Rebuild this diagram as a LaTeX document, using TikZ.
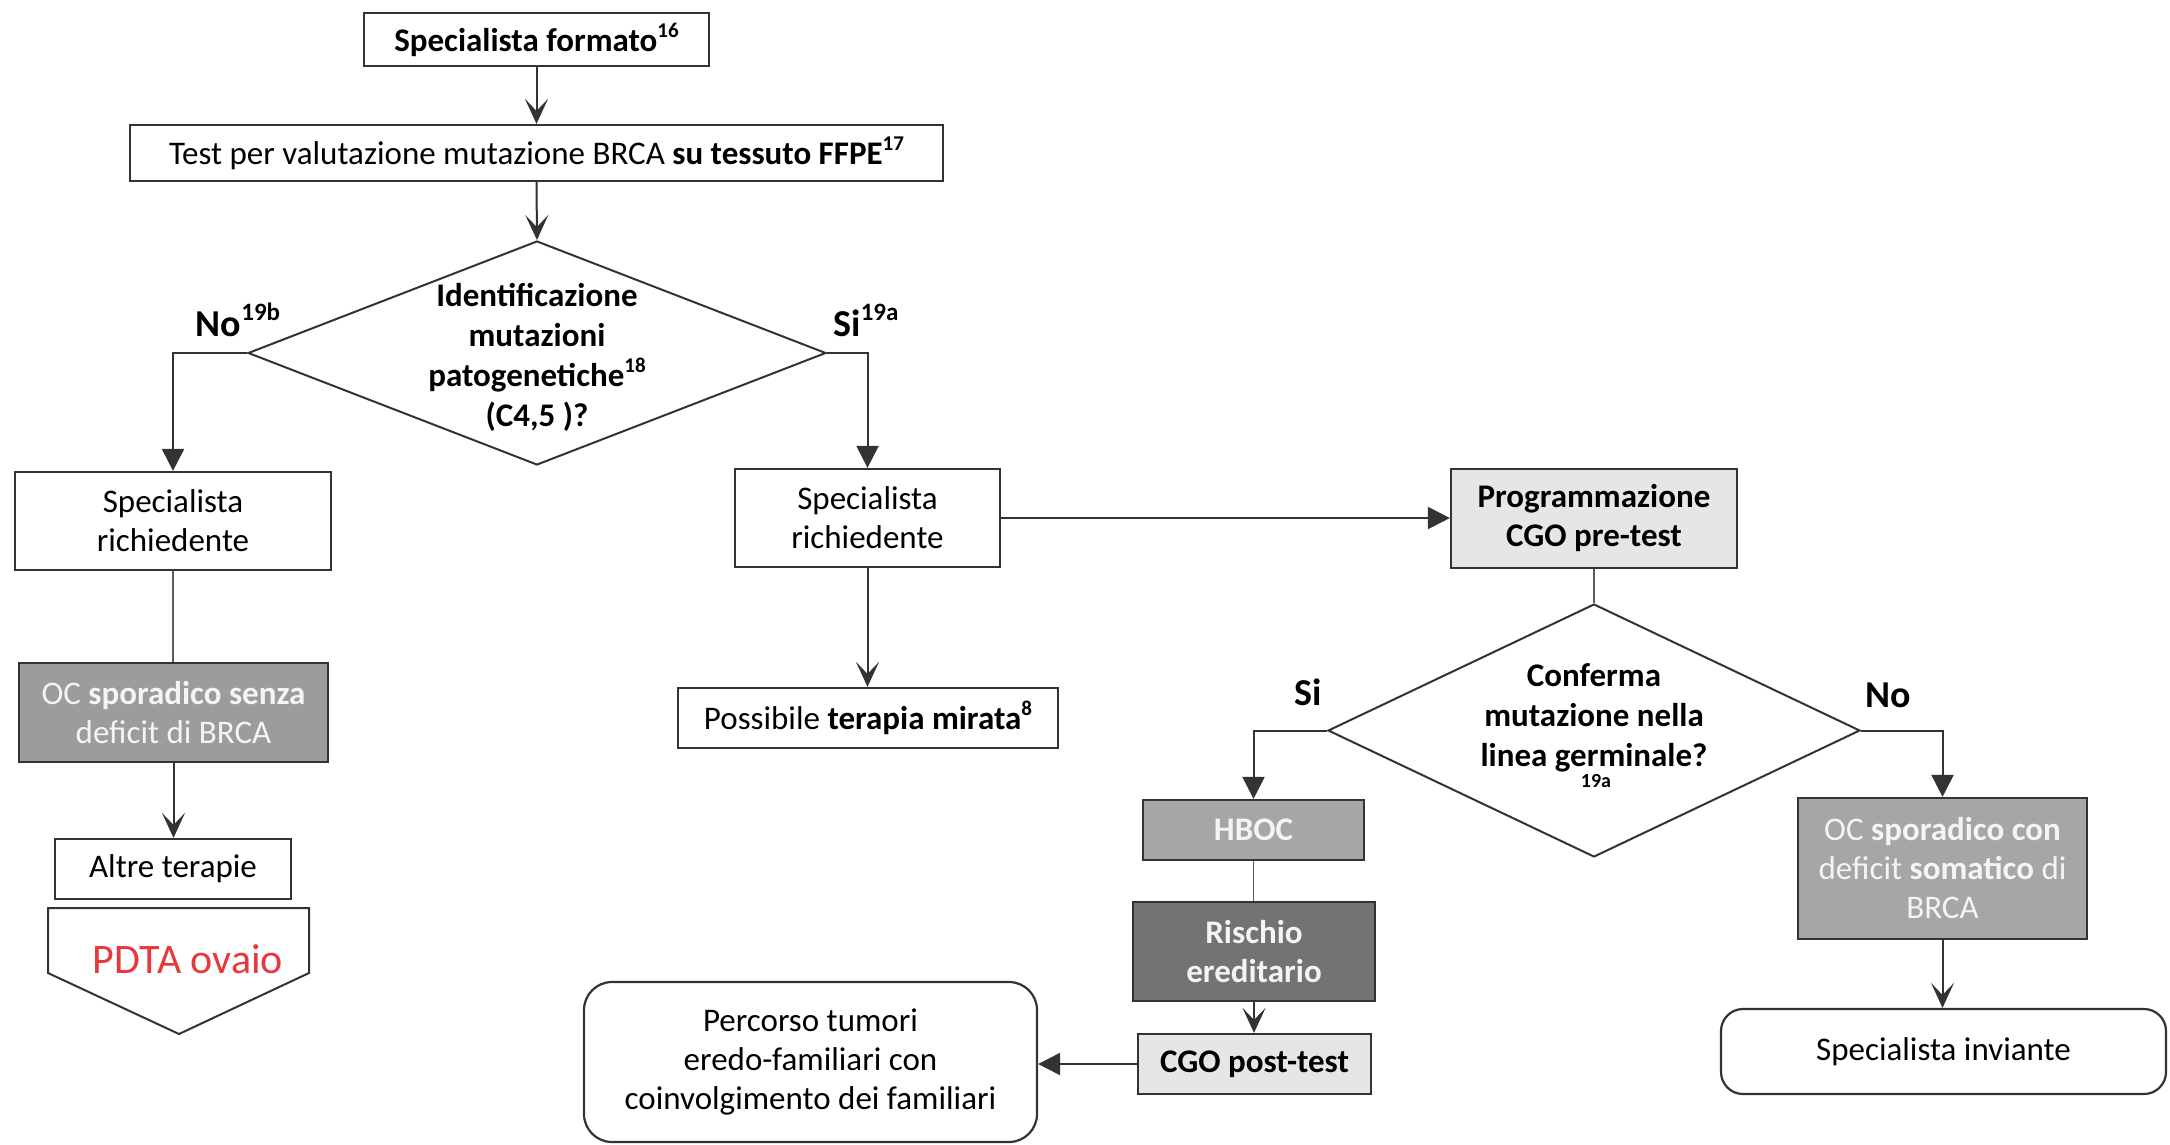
\documentclass[tikz,border=0pt]{standalone}
\usepackage{fontspec}
\setmainfont{Carlito}
\usetikzlibrary{arrows.meta,shapes.geometric,calc}

\definecolor{edge}{HTML}{333333}
\definecolor{lightbox}{HTML}{E6E6E6}
\definecolor{midbox}{HTML}{A6A6A6}
\definecolor{sporbox}{HTML}{9C9C9C}
\definecolor{darkbox}{HTML}{737373}
\definecolor{lighttext}{HTML}{F4F4F4}
\definecolor{pdtared}{HTML}{E8383D}

% small raised reference numbers
\newcommand{\refnum}[1]{\raisebox{0.42em}{\fontsize{21}{21}\selectfont #1}}
\newcommand{\bigrefnum}[1]{\raisebox{0.42em}{\fontsize{25}{25}\selectfont #1}}

\begin{document}
\begin{tikzpicture}[x=1pt,y=-1pt,
  base/.style={inner sep=0pt, align=center, font=\fontsize{33}{39}\selectfont},
  box/.style={base, rectangle, draw=edge, line width=2.2pt, fill=white},
  lightgray/.style={box, fill=lightbox},
  graybox/.style={box, fill=midbox, text=lighttext},
  sporadic/.style={box, fill=sporbox, text=lighttext},
  darkgray/.style={box, fill=darkbox, text=lighttext},
  roundbox/.style={box, rounded corners=28pt},
  decision/.style={diamond, draw=edge, line width=2pt, inner sep=0pt, fill=white},
  decisiontext/.style={base, font=\bfseries\fontsize{33}{40}\selectfont},
  answer/.style={inner sep=0pt, font=\bfseries\fontsize{38}{40}\selectfont},
  conn/.style={draw=edge, line width=2pt},
  thin/.style={draw=edge!80, line width=1.6pt},
  solidtip/.style={conn, -{Triangle[length=22pt, width=22pt]}},
  opentip/.style={conn, -{Stealth[length=25pt, width=23pt, inset=12pt]}}
]
\useasboundingbox (0,0) rectangle (2170,1145);

% --- top of the flow
\node[box, minimum width=345pt, minimum height=53pt] (sf) at (536.5,39.5)
  {\textbf{Specialista formato\refnum{16}}};
\node[box, minimum width=813pt, minimum height=56pt] (test) at (536.5,153)
  {Test per valutazione mutazione BRCA \textbf{su tessuto FFPE\refnum{17}}};

% --- first decision
\node[decision, minimum width=578pt, minimum height=224pt] (d1) at (537,353) {};
\node[decisiontext] (d1t) at (537,357)
  {Identificazione\\mutazioni\\patogenetiche\refnum{18}\\(C4,5 )?};
\node[answer] (no1) at (238,320) {No\bigrefnum{19b}};
\node[answer] (si1) at (866,320) {Si\bigrefnum{19a}};

% --- left branch
\node[box, minimum width=316pt, minimum height=98pt] (sr1) at (173,521)
  {Specialista\\richiedente};
\node[sporadic, minimum width=309pt, minimum height=99pt] (ocs) at (173.5,712.5)
  {OC \textbf{sporadico senza}\\deficit di BRCA};
\node[box, minimum width=236pt, minimum height=60pt] (altre) at (173,869)
  {Altre terapie};
\draw[conn, fill=white] (48,908) -- (309,908) -- (309,973) -- (179,1034) -- (48,973) -- cycle;
\node[inner sep=0pt, anchor=base, text=pdtared, font=\fontsize{42}{44}\selectfont] (pdta) at (188,973)
  {PDTA ovaio};

% --- right branch
\node[box, minimum width=265pt, minimum height=98pt] (sr2) at (867.5,518)
  {Specialista\\richiedente};
\node[box, minimum width=380pt, minimum height=60pt] (poss) at (868,718)
  {Possibile \textbf{terapia mirata\refnum{8}}};
\node[lightgray, minimum width=286pt, minimum height=99pt] (prog) at (1594,518.5)
  {\textbf{Programmazione}\\\textbf{CGO pre-test}};

% --- second decision
\node[decision, minimum width=532pt, minimum height=253pt] (d2) at (1594,730.5) {};
\node[decisiontext] (d2t) at (1594,718)
  {Conferma\\mutazione nella\\linea germinale?};
\node[inner sep=0pt, font=\bfseries\fontsize{20}{20}\selectfont] (d2ref) at (1596,781) {19a};
\node[answer] (si2) at (1308,692) {Si};
\node[answer] (no2) at (1888,695) {No};

\node[graybox, minimum width=221pt, minimum height=60pt] (hboc) at (1253.5,830)
  {\textbf{HBOC}};
\node[darkgray, minimum width=242pt, minimum height=99pt] (risch) at (1254,951.5)
  {\textbf{Rischio}\\\textbf{ereditario}};
\node[lightgray, minimum width=233pt, minimum height=60pt] (cgopost) at (1254.5,1064)
  {\textbf{CGO post-test}};
\node[roundbox, minimum width=453pt, minimum height=160pt] (perc) at (810.5,1062)
  {Percorso tumori\\eredo-familiari con\\coinvolgimento dei familiari};

\node[graybox, minimum width=289pt, minimum height=141pt] (occ) at (1942.5,868.5)
  {OC \textbf{sporadico con}\\deficit \textbf{somatico} di\\BRCA};
\node[roundbox, rounded corners=22pt, minimum width=445pt, minimum height=85pt] (spinv) at (1943.5,1051.5)
  {Specialista inviante};

% --- connectors
\draw[opentip] (sf.south) -- (test.north);
\draw[opentip] (test.south) -- (d1.north);
\draw[solidtip] (d1.west) -| (sr1.north);
\draw[solidtip] (d1.east) -| (sr2.north);
\draw[thin] (sr1.south) -- (sr1.south |- ocs.north);
\draw[opentip] (ocs.south) -- (ocs.south |- altre.north);
\draw[opentip] (sr2.south) -- (sr2.south |- poss.north);
\draw[solidtip] (sr2.east) -- (sr2.east -| prog.west);
\draw[thin] (prog.south) -- (d2.north);
\draw[solidtip] (d2.west) -| (hboc.north);
\draw[solidtip] (d2.east) -| (occ.north);
\draw[thin] (hboc.south) -- (hboc.south |- risch.north);
\draw[opentip] (risch.south) -- (risch.south |- cgopost.north);
\draw[solidtip] (cgopost.west) -- (cgopost.west -| perc.east);
\draw[opentip] (occ.south) -- (occ.south |- spinv.north);
\end{tikzpicture}
\end{document}
